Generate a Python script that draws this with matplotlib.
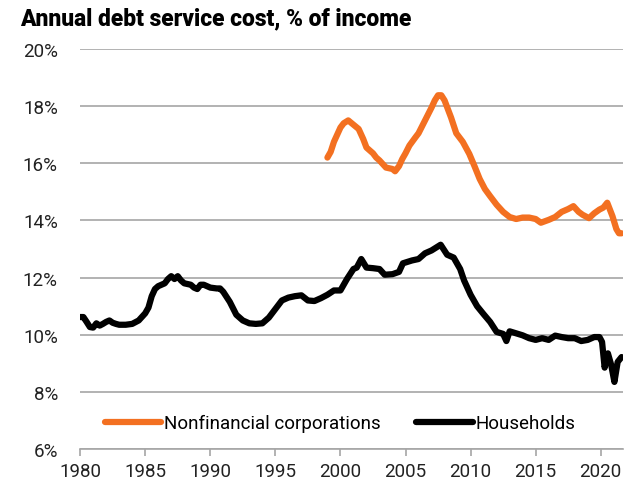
import matplotlib
matplotlib.use('Agg')
import matplotlib.pyplot as plt
from matplotlib.ticker import FuncFormatter

plt.rcParams['font.family'] = ['Roboto', 'DejaVu Sans']

# households, % of income
hh_years = [1980.0, 1980.25, 1980.5, 1980.75, 1981.0, 1981.25, 1981.5, 1981.75, 1982.0, 1982.25,
            1982.5, 1982.75, 1983.0, 1983.5, 1984.0, 1984.5, 1985.0, 1985.25, 1985.5, 1985.75,
            1986.0, 1986.5, 1986.75, 1987.0, 1987.25, 1987.5, 1987.75, 1988.0, 1988.5, 1988.75,
            1989.0, 1989.25, 1989.5, 1989.75, 1990.0, 1990.5, 1990.75, 1991.0, 1991.5, 1992.0,
            1992.5, 1993.0, 1993.5, 1994.0, 1994.5, 1995.0, 1995.5, 1996.0, 1996.5, 1997.0,
            1997.5, 1998.0, 1998.5, 1999.0, 1999.5, 2000.0, 2000.5, 2001.0, 2001.25, 2001.6,
            2002.0, 2002.5, 2003.0, 2003.4, 2004.0, 2004.5, 2004.8, 2005.5, 2006.0, 2006.5,
            2007.0, 2007.7, 2008.2, 2008.7, 2009.2, 2009.5, 2010.0, 2010.5, 2011.0, 2011.5,
            2012.0, 2012.5, 2012.75, 2013.0, 2013.5, 2014.0, 2014.5, 2015.0, 2015.5, 2016.0,
            2016.5, 2017.0, 2017.5, 2018.0, 2018.5, 2019.0, 2019.5, 2019.9, 2020.1, 2020.3,
            2020.55, 2020.8, 2021.05, 2021.3, 2021.6]
hh_vals = [10.62, 10.62, 10.45, 10.27, 10.25, 10.4, 10.32, 10.38, 10.45, 10.5,
           10.42, 10.38, 10.35, 10.35, 10.38, 10.5, 10.75, 10.95, 11.35, 11.6,
           11.7, 11.8, 11.95, 12.05, 11.95, 12.05, 11.9, 11.8, 11.75, 11.65,
           11.6, 11.75, 11.75, 11.7, 11.65, 11.62, 11.62, 11.5, 11.15, 10.7,
           10.5, 10.4, 10.38, 10.4, 10.6, 10.9, 11.2, 11.3, 11.35, 11.38,
           11.2, 11.18, 11.28, 11.4, 11.55, 11.55, 11.95, 12.3, 12.35, 12.65,
           12.35, 12.33, 12.3, 12.1, 12.12, 12.2, 12.5, 12.6, 12.65, 12.85,
           12.95, 13.15, 12.8, 12.7, 12.3, 11.9, 11.4, 11.0, 10.72, 10.45,
           10.1, 10.03, 9.78, 10.12, 10.05, 9.98, 9.88, 9.82, 9.88, 9.82,
           9.97, 9.92, 9.88, 9.88, 9.78, 9.82, 9.92, 9.92, 9.75, 8.85,
           9.35, 8.95, 8.35, 9.05, 9.22]

# nonfinancial corporations, % of income
nfc_years = [1999.0, 1999.25, 1999.5, 1999.75, 2000.0, 2000.25, 2000.6, 2001.0, 2001.4, 2001.75,
             2002.0, 2002.5, 2002.75, 2003.0, 2003.5, 2004.0, 2004.2, 2004.5, 2004.75, 2005.0,
             2005.3, 2005.75, 2006.0, 2006.5, 2007.0, 2007.25, 2007.5, 2007.75, 2008.0, 2008.5,
             2008.9, 2009.4, 2009.9, 2010.3, 2010.7, 2011.1, 2011.5, 2012.0, 2012.5, 2013.0,
             2013.5, 2014.0, 2014.5, 2015.0, 2015.4, 2016.0, 2016.5, 2017.0, 2017.5, 2017.9,
             2018.3, 2018.6, 2019.1, 2019.5, 2019.9, 2020.2, 2020.5, 2020.9, 2021.2, 2021.4,
             2021.6]
nfc_vals = [16.2, 16.4, 16.75, 17.0, 17.25, 17.4, 17.5, 17.35, 17.2, 16.85,
            16.55, 16.35, 16.2, 16.1, 15.85, 15.8, 15.72, 15.9, 16.15, 16.35,
            16.62, 16.9, 17.05, 17.5, 17.95, 18.2, 18.38, 18.38, 18.2, 17.6,
            17.05, 16.75, 16.33, 15.9, 15.45, 15.1, 14.85, 14.55, 14.3, 14.12,
            14.05, 14.1, 14.1, 14.05, 13.92, 14.02, 14.12, 14.3, 14.4, 14.5,
            14.3, 14.2, 14.08, 14.25, 14.38, 14.45, 14.62, 14.15, 13.7, 13.55,
            13.55]

x_ticks = [1980, 1985, 1990, 1995, 2000, 2005, 2010, 2015, 2020]
y_ticks = [6, 8, 10, 12, 14, 16, 18, 20]

orange = '#F37021'
fig = plt.figure(figsize=(6.26, 4.85), dpi=100)
ax = fig.add_axes([0.128, 0.072, 0.867, 0.825])

ax.plot(nfc_years, nfc_vals, color=orange, lw=4.5, solid_capstyle='round',
        solid_joinstyle='round', label='Nonfinancial corporations')
ax.plot(hh_years, hh_vals, color='black', lw=4.5, solid_capstyle='round',
        solid_joinstyle='round', label='Households')

ax.set_xlim(1980, 2021.7)
ax.set_ylim(6, 20)
ax.set_xticks(x_ticks)
ax.set_yticks(y_ticks)
ax.yaxis.set_major_formatter(FuncFormatter(lambda v, p: f'{v:.0f}%'))
ax.grid(axis='y', color='#A6A6A6', lw=1.2)
ax.set_axisbelow(True)
for s in ['top', 'right', 'left']:
    ax.spines[s].set_visible(False)
ax.spines['bottom'].set_color('#A6A6A6')
ax.spines['bottom'].set_linewidth(1.2)
ax.tick_params(axis='y', length=0, pad=16, labelsize=13.5, labelcolor='#222222')
ax.tick_params(axis='x', length=5, color='#A6A6A6', width=1.2, labelsize=13.5,
               labelcolor='#222222', pad=4)

ax.legend(loc='lower left', bbox_to_anchor=(0.015, 0.0), ncol=2, frameon=False,
          fontsize=13.5, handlelength=3.0, handletextpad=0.15, columnspacing=1.9)

fig.text(0.032, 0.962, 'Annual debt service cost, % of income', fontsize=16.4,
         fontweight='black', va='center', ha='left')

fig.savefig('out.png', dpi=100)
